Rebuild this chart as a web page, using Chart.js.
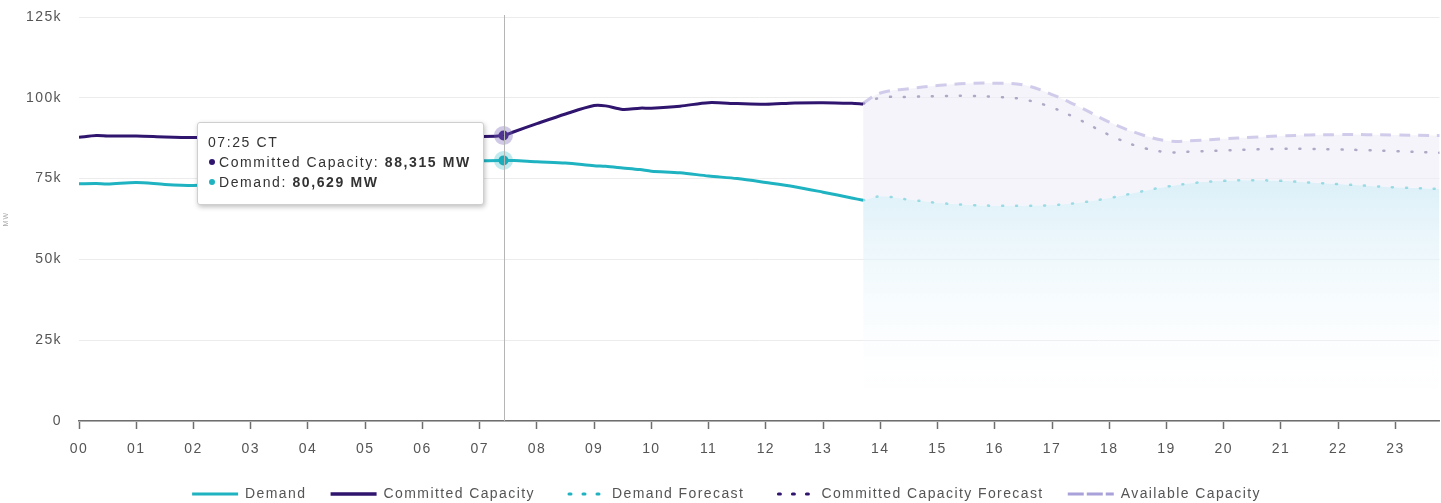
<!DOCTYPE html>
<html>
<head>
<meta charset="utf-8">
<script src="https://cdn.jsdelivr.net/npm/chart.js@4.4.1/dist/chart.umd.min.js"></script>
<style>
  html, body { margin: 0; padding: 0; background: #fff; }
  #wrap { position: relative; width: 1441px; height: 503px; }
  #tip {
    position: absolute; display: none; background: #fff; border: 1px solid #cfcfcf;
    border-radius: 3px; box-shadow: 1px 2px 5px rgba(0,0,0,0.25);
    font-family: "Liberation Sans", Arial, sans-serif; font-size: 14px; letter-spacing: 1.6px; color: #333;
    padding: 9px 12px 12px 10px; line-height: 20px; white-space: nowrap; box-sizing: border-box;
  }
  #tip .dot { display: inline-block; width: 6px; height: 6px; border-radius: 50%; margin: 0 4px 2px 1px; vertical-align: middle; }
</style>
</head>
<body>
<div id="wrap">
  <canvas id="chart"></canvas>
  <div id="tip"></div>
</div>
<script>
// ─── DATA ─────────────────────────────────────────────────────────────────────
const hourTicks = ['00','01','02','03','04','05','06','07','08','09','10','11',
                   '12','13','14','15','16','17','18','19','20','21','22','23'];

// actuals (hours of day, MW)
const actualHours = [0, 0.3, 0.5, 1, 1.5, 2, 2.5, 3, 4, 5, 6, 7, 7.4167, 7.6, 8, 8.5, 9, 9.2, 9.5,
                     9.8, 10, 10.5, 11, 11.5, 12, 12.5, 13, 13.5, 13.7];
const demand = [73400, 73500, 73300, 73800, 73200, 72900, 73300, 74000, 75500, 77500, 79500, 80500,
                80629, 80600, 80200, 79800, 79000, 78800, 78300, 77800, 77300, 76800, 75800, 75000,
                73800, 72500, 70800, 69000, 68300];
const committed = [87800, 88300, 88200, 88200, 87900, 87700, 87700, 87600, 87700, 87800, 87900, 88000,
                   88315, 89500, 92000, 95000, 97600, 97500, 96400, 96800, 96800, 97400, 98500, 98200,
                   98000, 98400, 98500, 98300, 98100];

// forecasts
const forecastHours = [13.7, 14, 14.5, 15, 15.5, 16, 16.5, 17, 17.5, 18, 18.5, 19, 19.5, 20, 20.5,
                       21, 21.5, 22, 22.5, 23, 23.8];
const demandForecast = [68300, 69500, 68500, 67500, 66900, 66600, 66600, 66800, 67600, 69000, 70800,
                        72500, 73700, 74300, 74500, 74300, 73800, 73300, 72800, 72300, 71800];
const committedForecast = [98100, 100000, 100300, 100500, 100600, 100300, 99500, 97000, 93000, 88500,
                           85000, 83200, 83400, 83700, 84000, 84200, 84200, 84000, 83800, 83500, 83000];
const availableCapacity = [98300, 101500, 102800, 103800, 104400, 104500, 104000, 101000, 97000, 92500,
                           89000, 86700, 86800, 87300, 87800, 88200, 88500, 88600, 88600, 88500, 88300];

const yTicks = [0, 25000, 50000, 75000, 100000, 125000];
const hoverHour = 7.4167;

// ─── HELPERS ──────────────────────────────────────────────────────────────────
const pts = (xs, ys) => xs.map((x, i) => ({ x, y: ys[i] }));
const FONT = '"Liberation Sans", Arial, sans-serif';
const TEAL = '#1fb3c1';
const PURPLE = '#30156f';
const SPACING = '1.4px';

function fmtHour(h) {
  const mins = Math.round(h * 60);
  return String(Math.floor(mins / 60)).padStart(2, '0') + ':' + String(mins % 60).padStart(2, '0') + ' CT';
}

function blueFill(ctx) {
  const area = ctx.chart.chartArea;
  if (!area) return 'rgba(220,238,246,0.8)';
  const y = ctx.chart.scales.y;
  const g = ctx.chart.ctx.createLinearGradient(0, y.getPixelForValue(72000), 0, y.getPixelForValue(3000));
  g.addColorStop(0, 'rgba(218,239,248,0.9)');
  g.addColorStop(1, 'rgba(255,255,255,0)');
  return g;
}

// wider text like the original page
const spacing = {
  id: 'spacing',
  beforeLayout(chart) { chart.ctx.letterSpacing = SPACING; },
  beforeDraw(chart) { chart.ctx.letterSpacing = SPACING; }
};

// nudge the legend row down/right into the spare space at the bottom
const legendNudge = {
  id: 'legendNudge',
  afterLayout(chart) {
    const lg = chart.legend;
    if (!lg) return;
    lg.top += 8; lg.bottom += 8;
    lg.left += 6; lg.right += 6;
  }
};

// vertical line at the hovered time
const crosshair = {
  id: 'crosshair',
  afterDatasetsDraw(chart) {
    const act = chart.tooltip && chart.tooltip.getActiveElements();
    if (!act || !act.length) return;
    const x = act[0].element.x;
    const { ctx, chartArea } = chart;
    ctx.save();
    ctx.strokeStyle = '#b5b5b5';
    ctx.lineWidth = 1;
    ctx.beginPath();
    ctx.moveTo(Math.round(x) + 0.5, chartArea.top - 2);
    ctx.lineTo(Math.round(x) + 0.5, chartArea.bottom);
    ctx.stroke();
    ctx.restore();
  }
};

function externalTip(context) {
  const el = document.getElementById('tip');
  const tt = context.tooltip;
  if (tt.opacity === 0 || !tt.dataPoints || !tt.dataPoints.length) { el.style.display = 'none'; return; }
  const first = tt.dataPoints[0];
  let html = '<div>' + fmtHour(first.parsed.x) + '</div>';
  tt.dataPoints.forEach(dp => {
    html += '<div><span class="dot" style="background:' + dp.dataset.borderColor + '"></span>' +
      dp.dataset.label + ': <b>' + dp.parsed.y.toLocaleString('en-US') + ' MW</b></div>';
  });
  el.innerHTML = html;
  el.style.display = 'block';
  const caretX = first.element.x;
  const topY = Math.min(...tt.dataPoints.map(d => d.element.y));
  el.style.left = (caretX - 20 - el.offsetWidth) + 'px';
  el.style.top = (topY - 14) + 'px';
}

// ─── CHART ────────────────────────────────────────────────────────────────────
const chart = new Chart(document.getElementById('chart'), {
  type: 'line',
  data: {
    datasets: [
      {
        label: 'Demand', data: pts(actualHours, demand), borderColor: TEAL, backgroundColor: TEAL,
        borderWidth: 3, tension: 0.3, pointRadius: 0, pointHoverRadius: 5, pointHoverBorderWidth: 9,
        pointHoverBackgroundColor: '#1aa9b8', pointHoverBorderColor: 'rgba(31,179,193,0.28)',
        legendWidth: 3, order: 0
      },
      {
        label: 'Committed Capacity', data: pts(actualHours, committed), borderColor: PURPLE, backgroundColor: PURPLE,
        borderWidth: 3, tension: 0.3, pointRadius: 0, pointHoverRadius: 5, pointHoverBorderWidth: 9,
        pointHoverBackgroundColor: '#3a1d7e', pointHoverBorderColor: 'rgba(120,100,180,0.35)',
        legendWidth: 3.5, order: 0
      },
      {
        label: 'Demand Forecast', data: pts(forecastHours, demandForecast), borderColor: 'rgba(31,179,193,0.4)',
        backgroundColor: blueFill, fill: 'origin', borderWidth: 2.5, borderDash: [1, 13], borderCapStyle: 'round',
        tension: 0.4, pointRadius: 0, pointHoverRadius: 0, legendColor: TEAL, legendWidth: 3, order: 2
      },
      {
        label: 'Committed Capacity Forecast', data: pts(forecastHours, committedForecast),
        borderColor: 'rgba(70,55,120,0.4)', backgroundColor: 'transparent', fill: false, borderWidth: 2.5,
        borderDash: [1, 13], borderCapStyle: 'round', tension: 0.4, pointRadius: 0, pointHoverRadius: 0,
        legendColor: PURPLE, legendWidth: 3, order: 1
      },
      {
        label: 'Available Capacity', data: pts(forecastHours, availableCapacity), borderColor: 'rgba(205,199,233,0.9)',
        backgroundColor: 'rgba(240,238,248,0.65)', fill: 2, borderWidth: 3, borderDash: [11, 8],
        tension: 0.4, pointRadius: 0, pointHoverRadius: 0, legendColor: '#a9a1d9', legendWidth: 3, order: 3
      }
    ]
  },
  options: {
    responsive: true,
    maintainAspectRatio: false,
    animation: false,
    layout: { padding: { top: 17, right: 0, bottom: 0, left: 0 } },
    interaction: { mode: 'nearest', intersect: false },
    plugins: {
      legend: {
        position: 'bottom',
        labels: {
          boxWidth: 46, boxHeight: 0, padding: 3, color: '#555',
          font: { family: FONT, size: 14 },
          // trailing spaces give the gap between items (padding also sets the legend height)
          // dash offset 3 keeps the dots of the flat legend box on top of each other
          generateLabels: (c) => c.data.datasets.map((ds, i, all) => ({
            text: ds.label + (i < all.length - 1 ? '    ' : ''), datasetIndex: i, hidden: false,
            fillStyle: 'rgba(0,0,0,0)', strokeStyle: ds.legendColor || ds.borderColor,
            lineWidth: ds.legendWidth, lineDash: ds.borderDash || [],
            lineDashOffset: ds.borderCapStyle === 'round' ? 3 : 0,
            lineCap: ds.borderCapStyle === 'round' ? 'round' : 'butt',
            fontColor: '#555'
          }))
        }
      },
      tooltip: { enabled: false, external: externalTip, filter: (item) => item.datasetIndex < 2 }
    },
    scales: {
      x: {
        type: 'linear', min: 0, max: 23.77,
        border: { display: true, color: '#6e6e6e', width: 1.5 },
        grid: { display: true, drawOnChartArea: false, drawTicks: true, tickLength: 8, tickColor: '#6e6e6e', tickWidth: 1.5 },
        ticks: {
          stepSize: 1, includeBounds: false, padding: 12, color: '#555', maxRotation: 0, autoSkip: false,
          font: { family: FONT, size: 14 },
          callback: (v) => hourTicks[v] !== undefined ? hourTicks[v] : ''
        },
        afterFit: (s) => { s.height = 55; }
      },
      y: {
        min: 0, max: 125000,
        border: { display: false },
        // invisible tick marks hold the labels away from the plot
        grid: { color: '#ececec', drawTicks: true, tickLength: 17, tickColor: 'rgba(0,0,0,0)' },
        afterBuildTicks: (s) => { s.ticks = yTicks.map(v => ({ value: v })); },
        ticks: {
          padding: 0, color: '#555', font: { family: FONT, size: 14 },
          callback: (v) => v === 0 ? '0' : (v / 1000) + 'k'
        },
        title: { display: true, text: 'MW', color: '#aaa', font: { family: FONT, size: 7 }, padding: 2 },
        afterFit: (s) => { s.width = 79; }
      }
    }
  },
  plugins: [spacing, legendNudge, crosshair]
});

// show the hover state at 07:25
const idx = actualHours.indexOf(hoverHour);
const active = [{ datasetIndex: 1, index: idx }, { datasetIndex: 0, index: idx }];
chart.setActiveElements(active);
chart.tooltip.setActiveElements(active, { x: chart.scales.x.getPixelForValue(hoverHour), y: 150 });
chart.update();
</script>
</body>
</html>
